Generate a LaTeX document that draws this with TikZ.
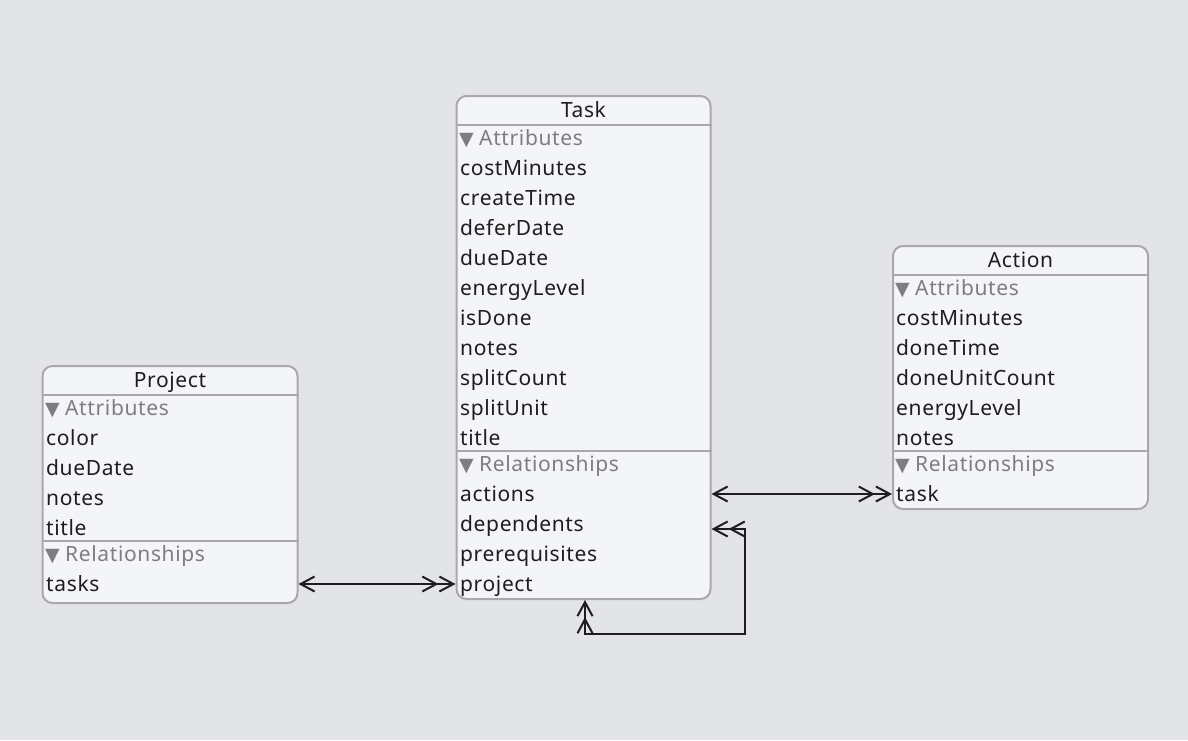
\documentclass[tikz,border=0pt]{standalone}
\usepackage{fontspec}
\setmainfont{Noto Sans}[LetterSpace=3]
\newfontfamily\symfont{DejaVu Sans}
\usetikzlibrary{arrows.meta}
\definecolor{bg}{HTML}{E3E4E8}
\definecolor{boxfill}{HTML}{F4F5F8}
\definecolor{boxline}{HTML}{A9A9AB}
\definecolor{txt}{HTML}{1E1E1E}
\definecolor{secgray}{HTML}{7E7E80}
\definecolor{wire}{HTML}{1E1E1E}
\tikzset{
  entity/.style={draw=boxline, fill=boxfill, line width=2pt, rounded corners=10pt, inner sep=0pt},
  sepline/.style={draw=boxline, line width=2pt},
  field/.style={anchor=base west, inner sep=0pt, font=\fontsize{21}{25}\selectfont, text=txt},
  section/.style={field, text=secgray},
  etitle/.style={anchor=base, inner sep=0pt, font=\fontsize{21}{25}\selectfont, text=txt},
  wire/.style={draw=wire, line width=2pt},
  onetip/.tip={Straight Barb[length=14pt,width=15pt]},
  manytip/.tip={Straight Barb[length=14pt,width=15pt] Straight Barb[length=14pt,width=15pt]},
}
\newcommand{\tri}{\hspace*{-1pt}\makebox[20pt][l]{\symfont\fontsize{19}{22}\selectfont ▼}}
\begin{document}
\begin{tikzpicture}[x=1pt,y=-1pt]
\useasboundingbox[fill=bg] (0,0) rectangle (1188,740);

% ---------- Project ----------
\node[entity, minimum width=255pt, minimum height=237pt] (project) at (170,484.5) {};
\draw[sepline] (project.west |- 0,395) -- (project.east |- 0,395);
\draw[sepline] (project.west |- 0,541) -- (project.east |- 0,541);
\node[etitle] (p-title) at (170,387) {Project};
\node[section] (p-attr) at (46,415) {\tri Attributes};
\node[field] (p-color) at (46,445) {color};
\node[field] (p-dueDate) at (46,475) {dueDate};
\node[field] (p-notes) at (46,505) {notes};
\node[field] (p-titlef) at (46,535) {title};
\node[section] (p-rel) at (46,561) {\tri Relationships};
\node[field] (p-tasks) at (46,591) {tasks};

% ---------- Task ----------
\node[entity, minimum width=254pt, minimum height=503pt] (task) at (583.5,347.5) {};
\draw[sepline] (task.west |- 0,125) -- (task.east |- 0,125);
\draw[sepline] (task.west |- 0,451) -- (task.east |- 0,451);
\node[etitle] (t-title) at (583.5,117) {Task};
\node[section] (t-attr) at (460,145) {\tri Attributes};
\node[field] (t-costMinutes) at (460,175) {costMinutes};
\node[field] (t-createTime) at (460,205) {createTime};
\node[field] (t-deferDate) at (460,235) {deferDate};
\node[field] (t-dueDate) at (460,265) {dueDate};
\node[field] (t-energyLevel) at (460,295) {energyLevel};
\node[field] (t-isDone) at (460,325) {isDone};
\node[field] (t-notes) at (460,355) {notes};
\node[field] (t-splitCount) at (460,385) {splitCount};
\node[field] (t-splitUnit) at (460,415) {splitUnit};
\node[field] (t-titlef) at (460,445) {title};
\node[section] (t-rel) at (460,471) {\tri Relationships};
\node[field] (t-actions) at (460,501) {actions};
\node[field] (t-dependents) at (460,531) {dependents};
\node[field] (t-prerequisites) at (460,561) {prerequisites};
\node[field] (t-project) at (460,591) {project};

% ---------- Action ----------
\node[entity, minimum width=255pt, minimum height=263pt] (action) at (1020.5,377.5) {};
\draw[sepline] (action.west |- 0,275) -- (action.east |- 0,275);
\draw[sepline] (action.west |- 0,451) -- (action.east |- 0,451);
\node[etitle] (a-title) at (1020.5,267) {Action};
\node[section] (a-attr) at (896,295) {\tri Attributes};
\node[field] (a-costMinutes) at (896,325) {costMinutes};
\node[field] (a-doneTime) at (896,355) {doneTime};
\node[field] (a-doneUnitCount) at (896,385) {doneUnitCount};
\node[field] (a-energyLevel) at (896,415) {energyLevel};
\node[field] (a-notes) at (896,445) {notes};
\node[section] (a-rel) at (896,471) {\tri Relationships};
\node[field] (a-task) at (896,501) {task};

% ---------- connector rows ----------
\coordinate (row-tasks) at (0,584);
\coordinate (row-actions) at (0,494);
\coordinate (row-dependents) at (0,529);
\coordinate (loop-corner) at (745,634);
\coordinate (loop-foot) at (585,0);

\draw[wire, onetip-manytip] (project.east |- row-tasks) -- (task.west |- row-tasks);
\draw[wire, onetip-manytip] (task.east |- row-actions) -- (action.west |- row-actions);
\draw[wire, manytip-manytip] (task.east |- row-dependents) -| (loop-corner) -| (task.south -| loop-foot);
\end{tikzpicture}
\end{document}
